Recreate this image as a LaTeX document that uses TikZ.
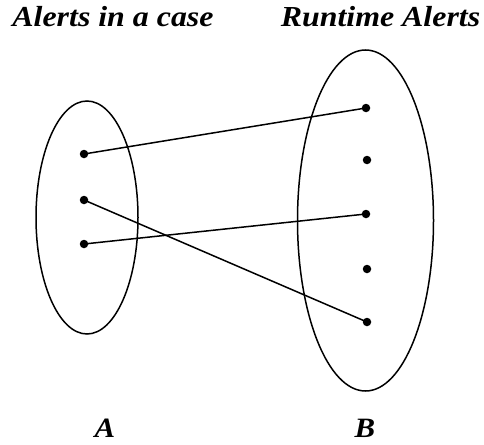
\documentclass[tikz,border=0pt]{standalone}
\usepackage{fontspec}
\setmainfont{Liberation Serif}
\newfontfamily\widefont[FakeStretch=1.1]{Liberation Serif}
\begin{document}
\begin{tikzpicture}[x=1pt,y=-1pt,
  setshape/.style={draw,line width=1.5pt},
  elem/.style={circle,fill=black,inner sep=0pt,minimum size=8.5pt},
  link/.style={line width=1.5pt},
  title/.style={font=\widefont\fontsize{29}{32}\selectfont\bfseries\itshape,inner sep=0pt,anchor=base},
  setname/.style={font=\widefont\fontsize{28}{30}\selectfont\bfseries\itshape,inner sep=0pt,anchor=base}]
\useasboundingbox (0,0) rectangle (484,444);
\draw[setshape] (87,217.5) ellipse [x radius=51, y radius=116.5];
\draw[setshape] (365.5,220.5) ellipse [x radius=68, y radius=170.5];
\node[elem] (a1) at (84,154) {};
\node[elem] (a2) at (84,200) {};
\node[elem] (a3) at (84,244) {};
\node[elem] (b1) at (366,108) {};
\node[elem] (b2) at (367,160) {};
\node[elem] (b3) at (366,214) {};
\node[elem] (b4) at (367,269) {};
\node[elem] (b5) at (367,322) {};
\draw[link] (a1.center) -- (b1.center);
\draw[link] (a2.center) -- (b5.center);
\draw[link] (a3.center) -- (b3.center);
\node[title] (t1) at (113,27) {Alerts in a case};
\node[title] (t2) at (380.5,27) {Runtime Alerts};
\node[setname] (la) at (105,437) {A};
\node[setname] (lb) at (365,437) {B};
\end{tikzpicture}
\end{document}
